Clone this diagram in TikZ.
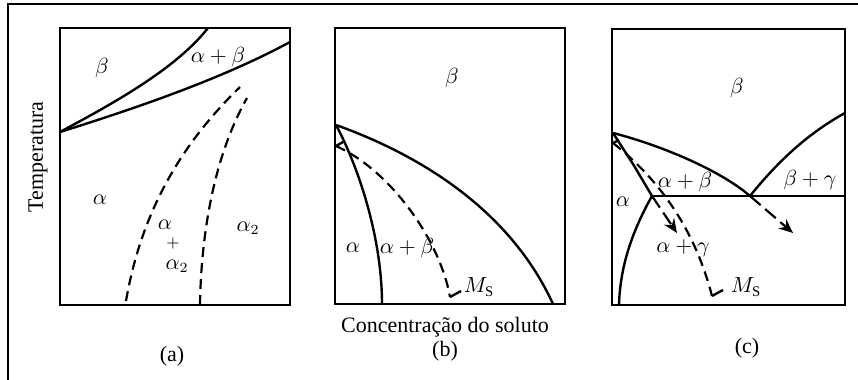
\documentclass[tikz,border=0pt]{standalone}
\usepackage{fontspec}
\setmainfont{Liberation Serif}
\usetikzlibrary{arrows.meta, positioning}
\tikzstyle{quadro}   = [line width=1pt]
\tikzstyle{fase}     = [line width=1.2pt, line join=round]
\tikzstyle{tracejado} = [line width=1.1pt, dash pattern=on 5pt off 3pt]
\tikzstyle{seta}     = [line width=1.1pt, dash pattern=on 7pt off 3pt, -{Stealth[length=7pt,width=6pt]}]
\tikzstyle{rotulo}   = [inner sep=0.5pt, font=\fontsize{10.5}{12}\selectfont]
\tikzstyle{legenda}  = [inner sep=1pt, font=\fontsize{11}{13}\selectfont]

\begin{document}
\begin{tikzpicture}[x=0.5pt, y=-0.5pt]
\useasboundingbox (0,0) rectangle (858,380);

% moldura externa
\coordinate (m0) at (8,380);
\coordinate (m1) at (8,4);
\coordinate (m2) at (858,4);
\draw[line width=1pt] (m0) -- (m1) -- (m2);

% (a)
\draw[quadro] (60,28) rectangle (290,305);
\coordinate (a0) at (60,132);
\coordinate (a1) at (208,28);
\coordinate (a2) at (290,42);
\draw[fase] (a0) .. controls (110,105) and (175,70) .. (a1);
\draw[fase] (a0) .. controls (130,110) and (220,80) .. (a2);
\draw[tracejado] (126,301) .. controls (140,220) and (175,150) .. (240,87);
\draw[tracejado] (200,305) .. controls (201,240) and (212,160) .. (247,98);

\node[rotulo] (a-b)   at (102,68)  {$\beta$};
\node[rotulo] (a-ab)  at (218,57)  {$\alpha+\beta$};
\node[rotulo] (a-a)   at (100,200) {$\alpha$};
\node[rotulo] (a-a1)  at (165,225) {$\alpha$};
\node[rotulo, inner sep=0pt, font=\fontsize{8}{9}\selectfont] (a-p) at (173,243) {$+$};
\node[rotulo] (a-a2)  at (177,266) {$\alpha_2$};
\node[rotulo] (a-a3)  at (248,228) {$\alpha_2$};

% (b)
\draw[quadro] (335,28) rectangle (565,304);
\coordinate (b0) at (336,125);
\coordinate (b1) at (336,146);
\coordinate (b2) at (553,304);
\coordinate (b3) at (382,304);
\coordinate (bms) at (450,297);
\draw[fase] (b0) .. controls (420,155) and (510,210) .. (b2);
\draw[fase] (b0) .. controls (360,170) and (382,240) .. (b3);
\draw[fase] (b1) -- (343,142);
\draw[tracejado] (b1) .. controls (390,170) and (440,240) .. (bms);
\draw[fase] (bms) -- ++(11,-6);

\node[rotulo] (b-b)   at (452,78)  {$\beta$};
\node[rotulo] (b-a)   at (353,248) {$\alpha$};
\node[rotulo] (b-ab)  at (407,248) {$\alpha+\beta$};
\node[rotulo] (b-ms)  at (479,287) {$M_{\mathrm{S}}$};

% (c)
\draw[quadro] (612,29) rectangle (845,305);
\coordinate (c0) at (613,133);
\coordinate (c1) at (613,143);
\coordinate (ce) at (652,196);
\coordinate (ct) at (750,196);
\coordinate (cr) at (845,196);
\coordinate (cd) at (845,113);
\coordinate (cb) at (619,305);
\coordinate (cms) at (712,296);
\draw[fase] (c0) .. controls (660,145) and (720,170) .. (ct);
\draw[fase] (ct) .. controls (775,165) and (805,135) .. (cd);
\draw[fase] (ce) -- (cr);
\draw[fase] (c0) -- (633,164) -- (ce);
\draw[fase] (ce) .. controls (630,235) and (620,270) .. (cb);
\draw[fase] (c1) -- (619,140);
\draw[tracejado] (c1) .. controls (660,180) and (695,230) .. (cms);
\draw[fase] (cms) -- ++(11,-6);
\draw[seta] (ce) -- ++(25,37);
\draw[seta] (ct) -- ++(43,37);

\node[rotulo] (c-b)   at (737,88)  {$\beta$};
\node[rotulo] (c-ab)  at (685,182) {$\alpha+\beta$};
\node[rotulo] (c-bg)  at (810,180) {$\beta+\gamma$};
\node[rotulo] (c-a)   at (623,202) {$\alpha$};
\node[rotulo] (c-ag)  at (683,248) {$\alpha+\gamma$};
\node[rotulo] (c-ms)  at (746,287) {$M_{\mathrm{S}}$};

% eixos e legendas
\node[legenda, rotate=90] (temp) at (38,157) {Temperatura};
\node[legenda] (conc) at (445,327) {Concentração do soluto};
\node[legenda] (la) at (172,356) {(a)};
\node[legenda] (lb) at (445,351) {(b)};
\node[legenda] (lc) at (747,348) {(c)};

\end{tikzpicture}
\end{document}
